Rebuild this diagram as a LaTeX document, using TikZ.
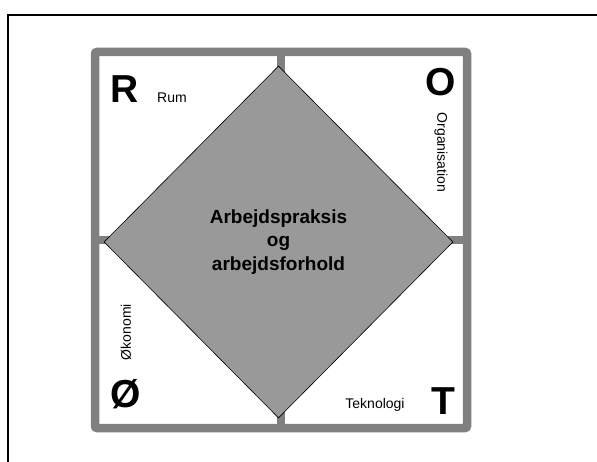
\documentclass[tikz,border=0pt]{standalone}
\usepackage{fontspec}
\setmainfont{Liberation Sans}
\usetikzlibrary{shapes.geometric}
\begin{document}
\begin{tikzpicture}[x = 1pt, y = -1pt]
    \tikzset{
        frame-line/.style = {line width = 8.5pt, draw = black!50},
        big-letter/.style = {font = \fontsize{39}{39}\selectfont\bfseries, inner sep = 0pt, anchor = base},
        small-word/.style = {font = \fontsize{14}{14}\selectfont, inner sep = 0pt}
    }
    \useasboundingbox (0, 0) rectangle (597, 462);

    \draw[line width = 2pt] (7.5, 462) -- (7.5, 15) -- (597, 15);

    \draw[frame-line, rounded corners = 2pt] (95, 52) rectangle (467, 428);
    \draw[frame-line] (281, 52) -- (281, 428);
    \draw[frame-line] (95, 240) -- (467, 240);

    \node[diamond, draw = black, fill = black!40, line width = 0.6pt,
        minimum width = 349pt, minimum height = 352pt, inner sep = 0pt,
        align = center, font = \fontsize{19}{23.5}\selectfont\bfseries]
        (practice) at (278.5, 242) {Arbejdspraksis\\og\\arbejdsforhold};

    \foreach \name/\letter/\x/\y in {r/R/125/103, o/O/440.5/96, oe/Ø/126/407, t/T/443.5/414}{
        \node[big-letter] (\name) at (\x, \y) {\letter};
    }

    \node[small-word, anchor = base west] (rum) at (157, 103) {Rum};
    \node[small-word, rotate = -90] (organisation) at (441, 152.5) {Organisation};
    \node[small-word, rotate = 90] (okonomi) at (126, 332) {Økonomi};
    \node[small-word, anchor = base] (teknologi) at (375, 408) {Teknologi};
\end{tikzpicture}
\end{document}
